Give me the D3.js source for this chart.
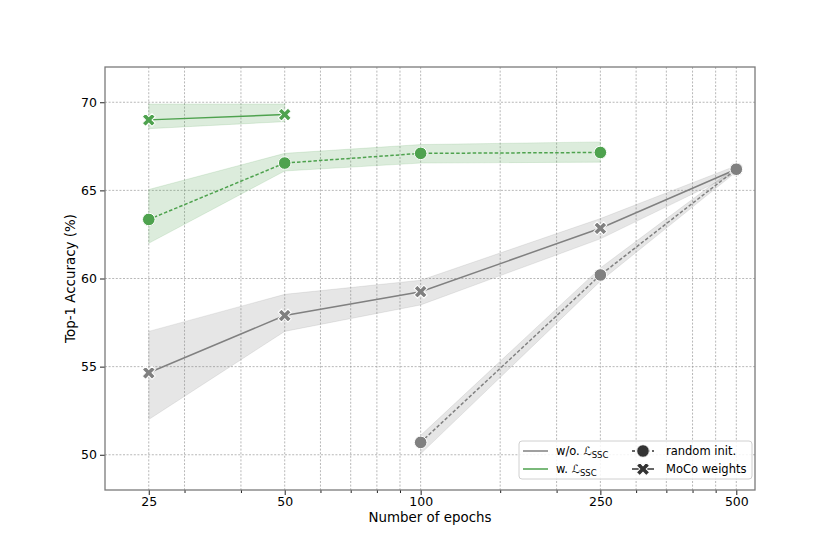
<!DOCTYPE html>
<meta charset="utf-8">
<style>
body { margin: 0; background: #fff; }
svg { font-family: "DejaVu Sans", sans-serif; }
.grid line { stroke: #9a9a9a; stroke-width: 0.7; stroke-dasharray: 2,1.6; }
.axis path { display: none; }
.axis line { stroke: #222; }
</style>
<body>
<div id="chart"></div>
<script src="https://cdnjs.cloudflare.com/ajax/libs/d3/7.8.5/d3.min.js"></script>
<script>
// ---- data ----
var xMajor = [25, 50, 100, 250, 500];
var xMinor = [30, 40, 60, 70, 80, 90, 150, 200, 300, 350, 400, 450];
var yTicks = [50, 55, 60, 65, 70];

var grayMocoX = [25, 50, 100, 250, 500];
var grayMocoMean = [54.65, 57.9, 59.25, 62.85, 66.2];
var grayMocoLow = [52.0, 57.0, 58.5, 62.25, 66.0];
var grayMocoHigh = [57.0, 59.1, 59.9, 63.4, 66.4];

var grayRandX = [100, 250, 500];
var grayRandMean = [50.7, 60.2, 66.2];
var grayRandLow = [50.05, 59.85, 66.05];
var grayRandHigh = [51.1, 60.6, 66.35];

var greenMocoX = [25, 50];
var greenMocoMean = [69.0, 69.3];
var greenMocoLow = [68.5, 68.9];
var greenMocoHigh = [69.9, 69.9];

var greenRandX = [25, 50, 100, 250];
var greenRandMean = [63.35, 66.55, 67.1, 67.15];
var greenRandLow = [62.0, 66.1, 66.55, 66.6];
var greenRandHigh = [65.05, 67.1, 67.6, 67.75];

var GRAY = "#808080", GREEN = "#4ea24e";

var W = 840, H = 560,
    margin = { top: 67, right: 85, bottom: 70, left: 105 },
    width = W - margin.left - margin.right,
    height = H - margin.top - margin.bottom;

var x = d3.scaleLog().domain([20, 550]).range([0, width]);
var y = d3.scaleLinear().domain([48, 72]).range([height, 0]);

var svg = d3.select("#chart").append("svg")
    .attr("width", W).attr("height", H);
var g = svg.append("g")
    .attr("transform", "translate(" + margin.left + "," + margin.top + ")");

// grid
g.append("g").attr("class", "grid")
    .selectAll("line").data(xMajor.concat(xMinor)).enter().append("line")
    .attr("x1", function(d) { return x(d); }).attr("x2", function(d) { return x(d); })
    .attr("y1", 0).attr("y2", height);
g.append("g").attr("class", "grid")
    .selectAll("line").data(yTicks).enter().append("line")
    .attr("x1", 0).attr("x2", width)
    .attr("y1", function(d) { return y(d); }).attr("y2", function(d) { return y(d); });

// axes
var xAxisG = g.append("g").attr("class", "axis")
    .attr("transform", "translate(0," + height + ")")
    .call(d3.axisBottom(x).tickValues(xMajor).tickFormat(d3.format("d")).tickSize(5).tickPadding(2.5));
g.append("g").attr("class", "axis")
    .attr("transform", "translate(0," + height + ")")
    .call(d3.axisBottom(x).tickValues(xMinor).tickFormat("").tickSize(3));
var yAxisG = g.append("g").attr("class", "axis")
    .call(d3.axisLeft(y).tickValues(yTicks).tickSize(5).tickPadding(3));
[xAxisG, yAxisG].forEach(function(a) {
    a.attr("font-family", "DejaVu Sans").attr("font-size", 12.5);
    a.selectAll("text").attr("fill", "#000");
});

function series(xs, mean, low, high) {
    return xs.map(function(d, i) { return { x: d, m: mean[i], lo: low[i], hi: high[i] }; });
}
var all = [
    { data: series(grayMocoX, grayMocoMean, grayMocoLow, grayMocoHigh), color: GRAY, dash: null, mark: "x" },
    { data: series(grayRandX, grayRandMean, grayRandLow, grayRandHigh), color: GRAY, dash: "3.5,2", mark: "o" },
    { data: series(greenMocoX, greenMocoMean, greenMocoLow, greenMocoHigh), color: GREEN, dash: null, mark: "x" },
    { data: series(greenRandX, greenRandMean, greenRandLow, greenRandHigh), color: GREEN, dash: "3.5,2", mark: "o" }
];

var area = d3.area()
    .x(function(d) { return x(d.x); })
    .y0(function(d) { return y(d.lo); })
    .y1(function(d) { return y(d.hi); });
var line = d3.line()
    .x(function(d) { return x(d.x); })
    .y(function(d) { return y(d.m); });

var xSym = d3.symbol().type(d3.symbolCross).size(105);

function drawMarker(sel, kind, color) {
    if (kind === "o") {
        sel.append("circle").attr("r", 6.3)
            .attr("fill", color).attr("stroke", "#fff").attr("stroke-width", 1);
    } else {
        sel.append("path").attr("d", xSym()).attr("transform", "rotate(45)")
            .attr("fill", color).attr("stroke", "#fff").attr("stroke-width", 1);
    }
}

all.forEach(function(s) {
    g.append("path").datum(s.data)
        .attr("d", area)
        .attr("fill", s.color).attr("fill-opacity", 0.2)
        .attr("stroke", s.color).attr("stroke-opacity", 0.15);
});
all.forEach(function(s) {
    g.append("path").datum(s.data)
        .attr("d", line)
        .attr("fill", "none").attr("stroke", s.color).attr("stroke-width", 1.5)
        .attr("stroke-dasharray", s.dash);
    g.selectAll(null).data(s.data).enter().append("g")
        .attr("transform", function(d) { return "translate(" + x(d.x) + "," + y(d.m) + ")"; })
        .each(function() { drawMarker(d3.select(this), s.mark, s.color); });
});

// frame
g.append("rect").attr("width", width).attr("height", height)
    .attr("fill", "none").attr("stroke", "#7a7a7a").attr("stroke-width", 1.3);

// axis labels
svg.append("text").attr("x", margin.left + width / 2).attr("y", 522)
    .attr("text-anchor", "middle").attr("font-size", 13.4).text("Number of epochs");
svg.append("text").attr("transform", "translate(75," + (margin.top + height / 2) + ") rotate(-90)")
    .attr("text-anchor", "middle").attr("font-size", 13.4).text("Top-1 Accuracy (%)");

// legend
var lg = svg.append("g").attr("font-size", 11.5);
lg.append("rect").attr("x", 519).attr("y", 441).attr("width", 233).attr("height", 38)
    .attr("rx", 3).attr("fill", "#fff").attr("fill-opacity", 0.85)
    .attr("stroke", "#d0d0d0").attr("stroke-width", 1);

var colItems = [
    { label: "w/o. ", color: GRAY, yy: 451 },
    { label: "w. ", color: GREEN, yy: 469 }
];
colItems.forEach(function(it) {
    lg.append("line").attr("x1", 523).attr("x2", 548).attr("y1", it.yy).attr("y2", it.yy)
        .attr("stroke", it.color).attr("stroke-width", 1.5);
    var t = lg.append("text").attr("x", 556).attr("y", it.yy + 4);
    t.append("tspan").text(it.label + "\u2112");
    t.append("tspan").attr("font-size", 8.5).attr("dy", 3).text("SSC");
});

var styleItems = [
    { label: "random init.", mark: "o", dash: "3,2", yy: 451 },
    { label: "MoCo weights", mark: "x", dash: null, yy: 469 }
];
styleItems.forEach(function(it) {
    lg.append("line").attr("x1", 632).attr("x2", 654).attr("y1", it.yy).attr("y2", it.yy)
        .attr("stroke", "#333").attr("stroke-width", 1.5).attr("stroke-dasharray", it.dash);
    var mg = lg.append("g").attr("transform", "translate(643," + it.yy + ")");
    drawMarker(mg, it.mark, "#333");
    lg.append("text").attr("x", 666).attr("y", it.yy + 4).text(it.label);
});
</script>
</body>
